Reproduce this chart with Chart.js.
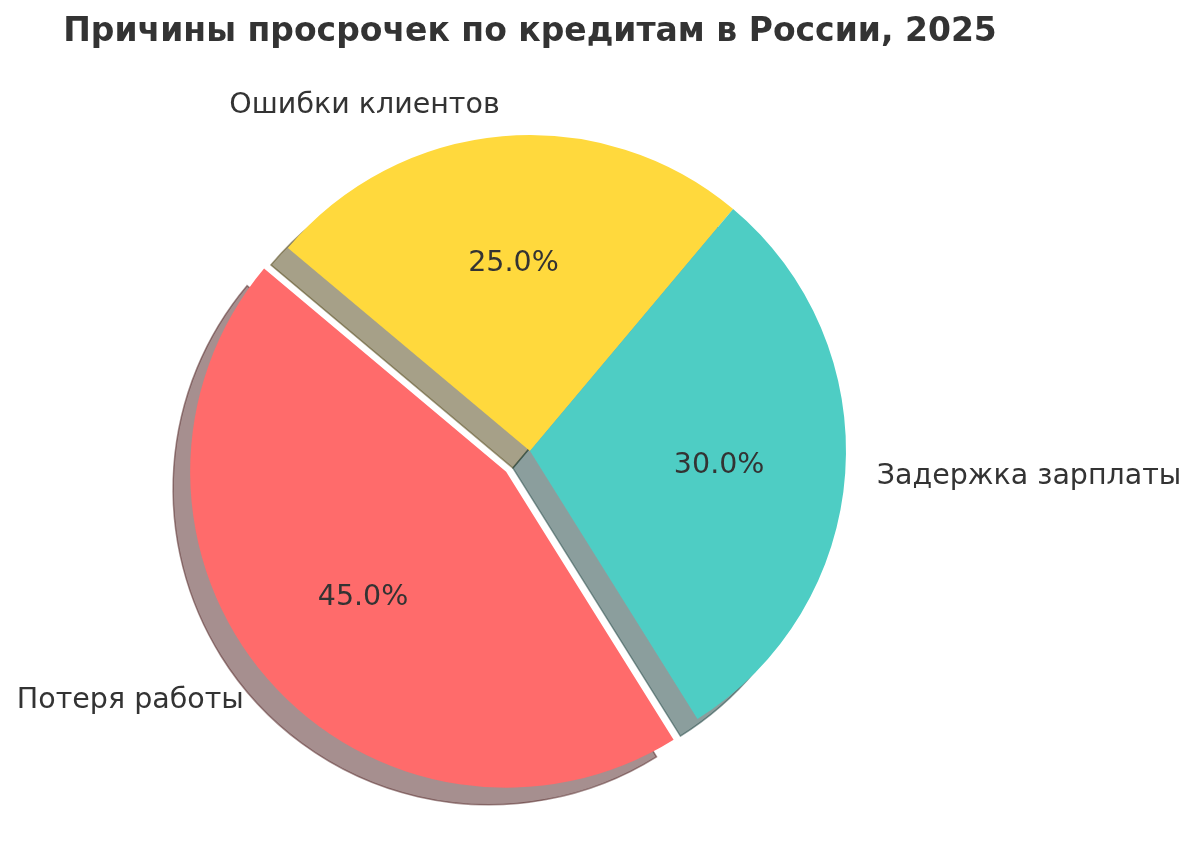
<!DOCTYPE html>
<html lang="ru">
<head>
<meta charset="utf-8">
<title>Причины просрочек по кредитам в России, 2025</title>
<script src="https://cdn.jsdelivr.net/npm/chart.js@4.4.1/dist/chart.umd.min.js"></script>
<style>
  html, body { margin: 0; padding: 0; background: #ffffff; }
  #wrap { width: 1200px; height: 864px; }
</style>
</head>
<body>
<div id="wrap"><canvas id="pie-chart" width="1200" height="864"></canvas></div>
<script>
// Chart data, in the order the slices go counter-clockwise
const categories = ['Потеря работы', 'Задержка зарплаты', 'Ошибки клиентов'];
const shares = [45, 30, 25];
const explode = [0.1, 0, 0];
const sliceColors = ['#FF6B6B', '#4ECDC4', '#FFD93D'];
const startAngle = 140; // degrees, counter-clockwise from 3 o'clock
const chartTitle = 'Причины просрочек по кредитам в России, 2025';

const textColor = '#333333';
const labelSize = 28.5;
const labelFont = labelSize + 'px "DejaVu Sans"';
const shadowShift = 0.054; // fraction of radius, down-left

// Chart.js draws clockwise from 12 o'clock, so reverse the slice order
const cjsLabels = categories.slice().reverse();
const cjsValues = shares.slice().reverse();
const cjsColors = sliceColors.slice().reverse();
const cjsExplode = explode.slice().reverse();
const total = shares.reduce((a, b) => a + b, 0);

function darker(hex) {
    const n = parseInt(hex.slice(1), 16);
    const r = Math.round(((n >> 16) & 255) * 0.3);
    const g = Math.round(((n >> 8) & 255) * 0.3);
    const b = Math.round((n & 255) * 0.3);
    return `rgba(${r},${g},${b},0.5)`;
}

// Move exploded slices out along their bisector (keeps radius the same)
const explodePlugin = {
    id: 'explode',
    afterUpdate(chart) {
        const meta = chart.getDatasetMeta(0);
        meta.data.forEach((arc, i) => {
            const e = cjsExplode[i] || 0;
            if (!e) return;
            const mid = (arc.startAngle + arc.endAngle) / 2;
            arc.x += Math.cos(mid) * e * arc.outerRadius;
            arc.y += Math.sin(mid) * e * arc.outerRadius;
        });
    }
};

// Matplotlib-like shadow under every wedge
const shadowPlugin = {
    id: 'wedgeShadow',
    beforeDatasetsDraw(chart) {
        const ctx = chart.ctx;
        const meta = chart.getDatasetMeta(0);
        ctx.save();
        meta.data.forEach((arc, i) => {
            const s = shadowShift * arc.outerRadius;
            const cx = arc.x - s;
            const cy = arc.y + s;
            const col = darker(cjsColors[i]);
            ctx.beginPath();
            ctx.moveTo(cx, cy);
            ctx.arc(cx, cy, arc.outerRadius, arc.startAngle, arc.endAngle);
            ctx.closePath();
            ctx.fillStyle = col;
            ctx.fill();
            ctx.lineWidth = 1.5;
            ctx.strokeStyle = col;
            ctx.stroke();
        });
        ctx.restore();
    }
};

// Category labels outside and percentages inside
const sliceLabelPlugin = {
    id: 'sliceLabels',
    afterDatasetsDraw(chart) {
        const ctx = chart.ctx;
        const meta = chart.getDatasetMeta(0);
        ctx.save();
        ctx.font = labelFont;
        ctx.fillStyle = textColor;
        ctx.textBaseline = 'alphabetic';
        const capHalf = labelSize * 0.3;
        meta.data.forEach((arc, i) => {
            const mid = (arc.startAngle + arc.endAngle) / 2;
            const r = arc.outerRadius;
            const lx = arc.x + Math.cos(mid) * r * 1.1;
            const ly = arc.y + Math.sin(mid) * r * 1.1;
            ctx.textAlign = Math.cos(mid) > 0 ? 'left' : 'right';
            ctx.fillText(cjsLabels[i], lx, ly + capHalf);

            const px = arc.x + Math.cos(mid) * r * 0.6;
            const py = arc.y + Math.sin(mid) * r * 0.6;
            ctx.textAlign = 'center';
            const pct = (cjsValues[i] / total * 100).toFixed(1) + '%';
            ctx.fillText(pct, px, py + capHalf);
        });
        ctx.restore();
    }
};

const ctx = document.getElementById('pie-chart').getContext('2d');
const pieChart = new Chart(ctx, {
    type: 'pie',
    data: {
        labels: cjsLabels,
        datasets: [{
            data: cjsValues,
            backgroundColor: cjsColors,
            borderWidth: 0,
            radius: 316
        }]
    },
    options: {
        responsive: false,
        devicePixelRatio: 1,
        animation: false,
        events: [],
        rotation: 90 - startAngle,
        layout: {
            padding: { left: 0, right: 140, top: 0, bottom: 14.6 }
        },
        plugins: {
            legend: { display: false },
            tooltip: { enabled: false },
            title: {
                display: true,
                text: chartTitle,
                color: textColor,
                font: { family: 'DejaVu Sans', size: 33, weight: 'bold', lineHeight: 1.2 },
                padding: { top: 13, bottom: 0 }
            }
        }
    },
    plugins: [explodePlugin, shadowPlugin, sliceLabelPlugin]
});
</script>
</body>
</html>
